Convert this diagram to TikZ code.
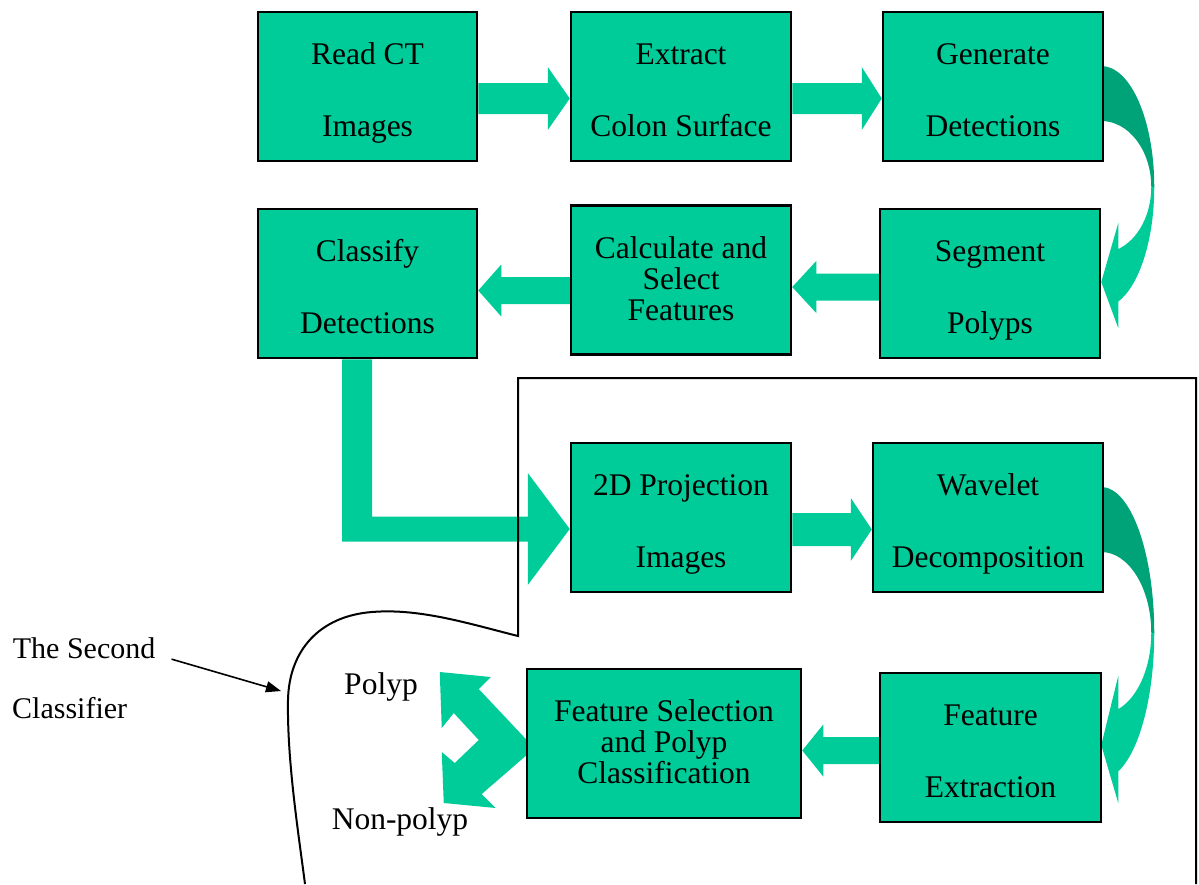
\documentclass[tikz,border=0pt]{standalone}
\usepackage{fontspec}
\setmainfont{Liberation Serif}
\usetikzlibrary{calc,backgrounds,arrows.meta}
\definecolor{flowgreen}{HTML}{00CC99}
\definecolor{flowdark}{HTML}{00A378}

% straight block arrow: from, to, shaft half-width, head half-width, head length
\newcommand\blockarrow[5]{%
  \coordinate (ba-s) at (#1);
  \coordinate (ba-e) at (#2);
  \coordinate (ba-h) at ($(ba-e)!#5!(ba-s)$);
  \fill[flowgreen] ($(ba-s)!#3!90:(ba-e)$) -- ($(ba-h)!#3!-90:(ba-s)$)
    -- ($(ba-h)!#4!-90:(ba-s)$) -- (ba-e) -- ($(ba-h)!#4!90:(ba-s)$)
    -- ($(ba-h)!#3!90:(ba-s)$) -- ($(ba-s)!#3!-90:(ba-e)$) -- cycle;
}

\begin{document}
\begin{tikzpicture}[x=1pt,y=-1pt,
  stage/.style={draw=black, line width=2.5pt, fill=flowgreen, inner sep=0pt,
    minimum width=#1, minimum height=149pt},
  lbl/.style={inner sep=0pt, anchor=base, font=\fontsize{31.5pt}{36pt}\selectfont},
  side/.style={inner sep=0pt, anchor=base west, font=\fontsize{30pt}{36pt}\selectfont},
  ptr/.style={line width=1.6pt, -{Triangle[length=15pt,width=11pt]}},
  frame/.style={line width=2pt}]
\useasboundingbox (0,0) rectangle (1199,884);

% process stages
\node[stage=219pt] (read)     at (367.5,86.5)  {};
\node[stage=220pt] (extract)  at (681,86.5)    {};
\node[stage=220pt] (generate) at (993,86.5)    {};
\node[stage=219pt] (classify) at (367.5,283.5) {};
\node[stage=220pt] (calc)     at (681,280)     {};
\node[stage=220pt] (segment)  at (990,283.5)   {};
\node[stage=220pt] (proj)     at (681,517.5)   {};
\node[stage=230pt] (wavelet)  at (988,517.5)   {};
\node[stage=274pt] (fsel)     at (664,743.5)   {};
\node[stage=221pt] (fext)     at (990.5,747.5) {};

% stage captions
\node[lbl] (read-a) at ($(read.center)+(0,-22)$) {Read CT};
\node[lbl] (read-b) at ($(read.center)+(0,50)$)  {Images};
\node[lbl] (extract-a) at ($(extract.center)+(0,-22)$) {Extract};
\node[lbl] (extract-b) at ($(extract.center)+(0,50)$)  {Colon Surface};
\node[lbl] (generate-a) at ($(generate.center)+(0,-22)$) {Generate};
\node[lbl] (generate-b) at ($(generate.center)+(0,50)$)  {Detections};
\node[lbl] (classify-a) at ($(classify.center)+(0,-22)$) {Classify};
\node[lbl] (classify-b) at ($(classify.center)+(0,50)$)  {Detections};
\node[lbl] (calc-a) at ($(calc.center)+(0,-22)$) {Calculate and};
\node[lbl] (calc-b) at ($(calc.center)+(0,9)$)   {Select};
\node[lbl] (calc-c) at ($(calc.center)+(0,40)$)  {Features};
\node[lbl] (segment-a) at ($(segment.center)+(0,-22)$) {Segment};
\node[lbl] (segment-b) at ($(segment.center)+(0,50)$)  {Polyps};
\node[lbl] (proj-a) at ($(proj.center)+(0,-22)$) {2D Projection};
\node[lbl] (proj-b) at ($(proj.center)+(0,50)$)  {Images};
\node[lbl] (wavelet-a) at ($(wavelet.center)+(0,-22)$) {Wavelet};
\node[lbl] (wavelet-b) at ($(wavelet.center)+(0,50)$)  {Decomposition};
\node[lbl] (fsel-a) at ($(fsel.center)+(0,-22)$) {Feature Selection};
\node[lbl] (fsel-b) at ($(fsel.center)+(0,9)$)   {and Polyp};
\node[lbl] (fsel-c) at ($(fsel.center)+(0,40)$)  {Classification};
\node[lbl] (fext-a) at ($(fext.center)+(0,-22)$) {Feature};
\node[lbl] (fext-b) at ($(fext.center)+(0,50)$)  {Extraction};

% outputs and side note
\node[lbl] (polyp)    at (381,694) {Polyp};
\node[lbl] (nonpolyp) at (400,829) {Non-polyp};
\node[side] (second) at (12.7,658) {The Second};
\node[side] (classifier) at (12,718) {Classifier};

\begin{scope}[on background layer]
  % straight block arrows
  \blockarrow{$(read.east)+(0,12)$}{$(extract.west)+(0,12)$}{15.5pt}{31.5pt}{22pt}
  \blockarrow{$(extract.east)+(0,12)$}{$(generate.west)+(0,12)$}{15.5pt}{31.5pt}{20pt}
  \blockarrow{$(segment.west)+(0,3.5)$}{$(calc.east)+(0,7)$}{13.5pt}{26pt}{24pt}
  \blockarrow{$(calc.west)+(0,10.5)$}{$(classify.east)+(0,7)$}{13.5pt}{26pt}{23pt}
  \blockarrow{$(proj.east)+(0,12)$}{$(wavelet.west)+(0,12)$}{16.5pt}{31.5pt}{21pt}
  \blockarrow{$(fext.west)+(0,3)$}{$(fsel.east)+(0,7)$}{13.5pt}{26pt}{21pt}

  % bent arrow from the classifier down to the projection stage
  \coordinate (lturn) at ($(classify.south)+(-10.5,0)$);
  \coordinate (ltip) at ($(proj.west)+(0,11.5)$);
  \fill[flowgreen] ($(lturn)+(-15,0)$) -- ($(lturn)+(15,0)$)
    -- ($(lturn |- ltip)+(15,-12.5)$) -- ($(ltip)+(-42,-12.5)$)
    -- ($(ltip)+(-42,-56)$) -- (ltip) -- ($(ltip)+(-42,56)$)
    -- ($(ltip)+(-42,12.5)$) -- ($(lturn |- ltip)+(-15,12.5)$) -- cycle;

  % curved arrow: detections to segmentation
  \coordinate (bend1) at ($(generate.east)+(-3,100.5)$);
  \begin{scope}[shift={(bend1)}]
    \fill[flowdark] (0,-121) arc[start angle=-90,end angle=0,x radius=53,y radius=121]
      -- (50,0) arc[start angle=0,end angle=-90,x radius=50,y radius=66] -- cycle;
    \fill[flowgreen] (53,0) arc[start angle=0,end angle=71.3,x radius=53,y radius=121]
      -- (17,141) -- (0,95) -- (17,36) -- (70.1:50 and 66)
      arc[start angle=70.1,end angle=0,x radius=50,y radius=66] -- cycle;
  \end{scope}

  % curved arrow: wavelet decomposition to feature extraction
  \coordinate (bend2) at ($(wavelet.east)+(-3,115.5)$);
  \begin{scope}[shift={(bend2)}]
    \fill[flowdark] (0,-146) arc[start angle=-90,end angle=0,x radius=53,y radius=146]
      -- (50,0) arc[start angle=0,end angle=-90,x radius=50,y radius=81] -- cycle;
    \fill[flowgreen] (53,0) arc[start angle=0,end angle=71.3,x radius=53,y radius=146]
      -- (17,170) -- (0,112) -- (17,43) -- (70.1:50 and 81)
      arc[start angle=70.1,end angle=0,x radius=50,y radius=81] -- cycle;
  \end{scope}

  % split arrow towards the two class labels
  \begin{scope}[shift={(fsel.west)}]
    \fill[flowgreen] (-86,-71.5) -- (-35,-66.5) -- (-47,-54.5) -- (1,-3.5)
      -- (1,11.5) -- (-44,50.5) -- (-30,64.5) -- (-82,59.5) -- (-84,8.5)
      -- (-71,19.5) -- (-47,-3.5) -- (-72,-30.5) -- (-84,-15.5) -- cycle;
  \end{scope}
\end{scope}

% outline of the second classifier
\draw[frame] (305,884) .. controls (298,830) and (287,760) .. (288,700)
  .. controls (289,650) and (320,616) .. (372,612)
  .. controls (420,608) and (470,624) .. (518,636)
  -- (518,378) -- (1196,378) -- (1196,884);

\coordinate (outline-pt) at (281,691);
\draw[ptr] ([xshift=16pt,yshift=-11.4pt]second.east) -- (outline-pt);
\end{tikzpicture}
\end{document}
